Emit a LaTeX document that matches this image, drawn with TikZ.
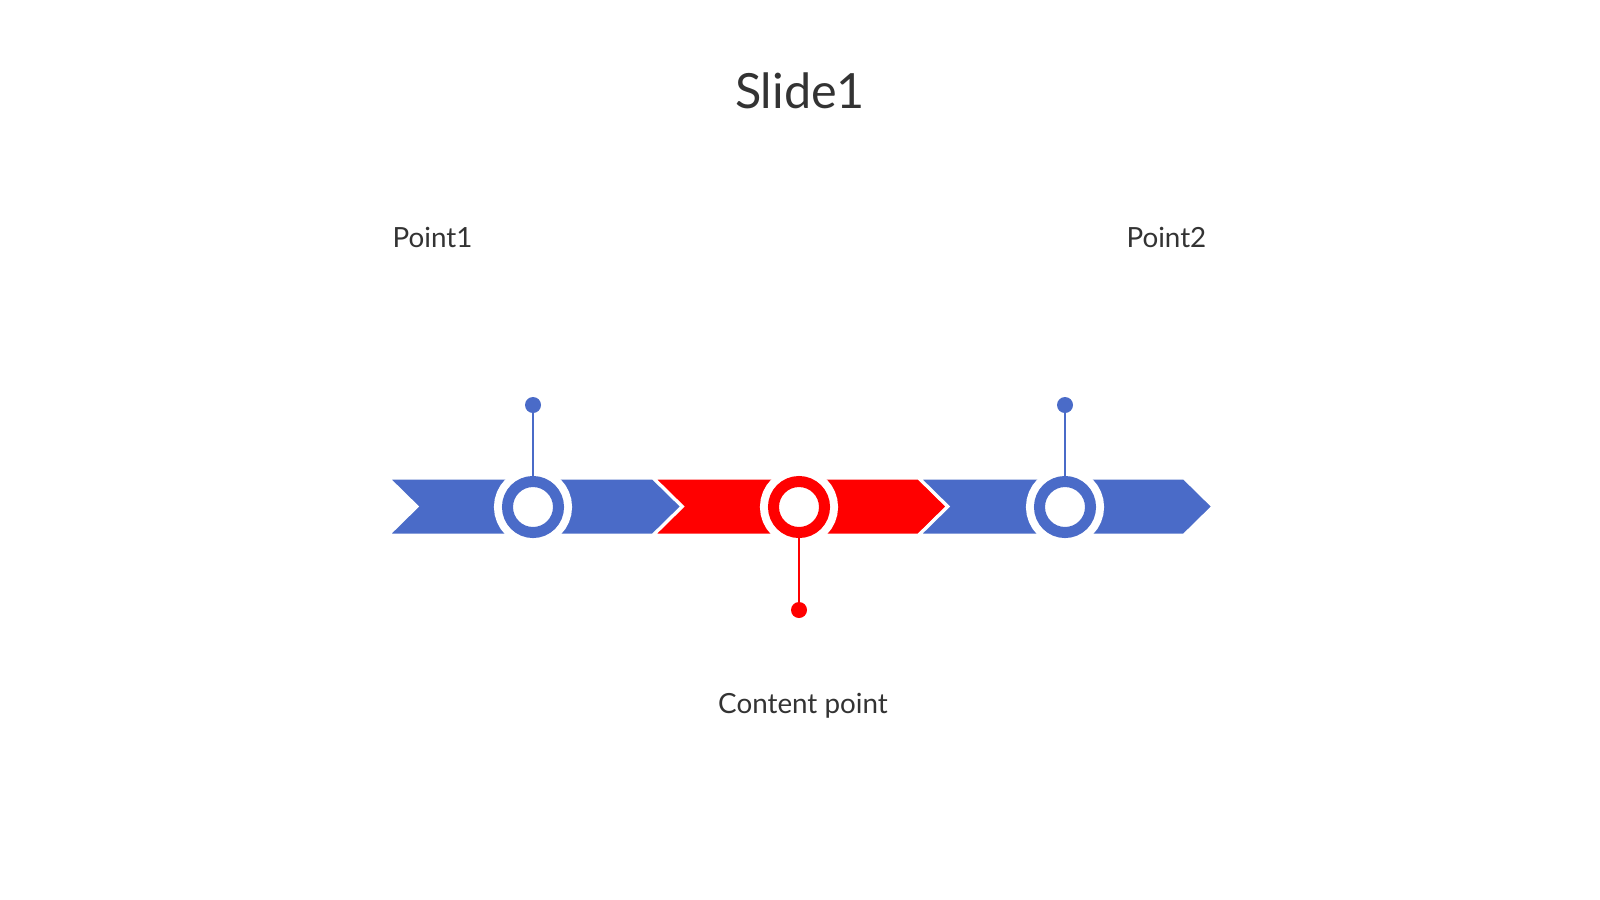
\documentclass[tikz,border=0pt]{standalone}
\usepackage{fontspec}
\setmainfont{Lato}
\usepackage{xcolor}
\usepackage{tikz}
\usetikzlibrary{positioning,calc}
\definecolor{tlblue}{HTML}{4A6BC8}
\definecolor{tlred}{HTML}{FF0000}
\definecolor{tltext}{HTML}{333333}
\tikzset{
    chev/.style={fill=#1, draw=white, line width=0.03cm, line join=miter},
    ring/.style={circle, fill=white, draw=#1, line width=0.11cm, minimum size=0.51cm,
        inner sep=0pt, outer sep=0pt, preaction={draw=white, line width=0.27cm}},
    pin/.style={circle, fill=#1, minimum size=0.16cm, inner sep=0pt, outer sep=0pt},
    stem/.style={draw=#1, line width=0.027cm},
    label/.style={text=tltext, font=\fontsize{7.9}{9}\selectfont, inner sep=0pt}
}
\begin{document}
\begin{tikzpicture}[x=0.01cm, y=-0.01cm]
    \useasboundingbox (0,0) rectangle (1600,899);
    % Title
    \node [text=tltext, font=\fontsize{13.8}{16}\selectfont, anchor=base, inner sep=0pt] (title) at (800,108) {Slide1};

    % Chevrons
    \foreach \k/\col in {0/tlblue,1/tlred,2/tlblue} {
        \pgfmathsetmacro{\xa}{388+265.5*\k}
        \path [chev=\col] (\xa,478) -- ++(265,0) -- ++(29,28.5) -- ++(-29,28.5)
            -- ++(-265,0) -- ++(29,-28.5) -- cycle;
    }

    % Rings on the line
    \node [ring=tlblue] (c1) at (533,507) {};
    \node [ring=tlred] (c2) at (799,507) {};
    \node [ring=tlblue] (c3) at (1065,507) {};

    % Pins
    \node [pin=tlblue] (p1) at (533,405) {};
    \node [pin=tlred] (p2) at (799,610) {};
    \node [pin=tlblue] (p3) at (1065,405) {};
    \draw [stem=tlblue] (p1) -- (c1.north);
    \draw [stem=tlred] (p2) -- (c2.south);
    \draw [stem=tlblue] (p3) -- (c3.north);

    % Labels
    \node [label, anchor=base west] (l1) at (392,247) {Point1};
    \node [label, anchor=base east] (l3) at (1207,247) {Point2};
    \node [label, anchor=base] (l2) at (803,713) {Content point};
\end{tikzpicture}
\end{document}
